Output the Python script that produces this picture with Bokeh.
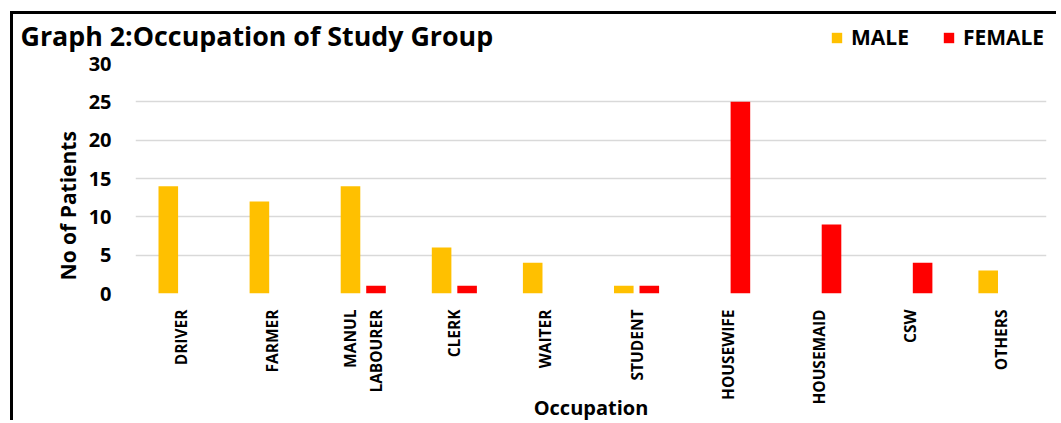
import math
from bokeh.plotting import figure
from bokeh.layouts import column
from bokeh.models import (FactorRange, Range1d, FixedTicker, Legend, LegendItem,
                          ColumnDataSource)
from bokeh.core.properties import value
from bokeh.transform import dodge
from bokeh.embed import file_html
from bokeh.resources import INLINE

categories = ["DRIVER", "FARMER", "MANUL\nLABOURER", "CLERK", "WAITER", "STUDENT",
              "HOUSEWIFE", "HOUSEMAID", "CSW", "OTHERS"]
male = [14, 12, 14, 6, 4, 1, 0, 0, 0, 3]
female = [0, 0, 1, 1, 0, 1, 25, 9, 4, 0]
y_ticks = [0, 5, 10, 15, 20, 25, 30]
title_text = "Graph 2:Occupation of Study Group"
y_title = "No of Patients"
x_title = "Occupation"
series_names = ["MALE", "FEMALE"]
MALE_COLOR = "#FFC000"
FEMALE_COLOR = "#FF0000"
FONT = "Open Sans"

W = 1046
H_HEAD = 44
OVERLAP = 10
H_MAIN = 375

# ---------- header: title + legend ----------
h = figure(width=W, height=H_HEAD, x_range=Range1d(0, W), y_range=Range1d(0, H_HEAD),
           output_backend="svg", toolbar_location=None, min_border=0)
h.frame_align = False
h.axis.visible = False
h.grid.visible = False
h.outline_line_color = None
h.text(x=[7], y=[H_HEAD - 21], text=[title_text], text_font=value(FONT),
       text_font_style="bold", text_font_size="26.8px", text_baseline="middle",
       text_align="left", text_color="black")
# swatch-only renderers (placed outside the visible header range)
dm = h.vbar(x=[-100], top=[0], width=1, fill_color=MALE_COLOR, line_color=None)
df = h.vbar(x=[-100], top=[0], width=1, fill_color=FEMALE_COLOR, line_color=None)
legend = Legend(items=[LegendItem(label=series_names[0], renderers=[dm]),
                       LegendItem(label=series_names[1], renderers=[df])],
                location=(817, 7), orientation="horizontal", padding=0, margin=0,
                spacing=33, glyph_width=13, glyph_height=13, label_standoff=8,
                label_height=20, label_text_font=FONT, label_text_font_style="bold",
                label_text_font_size="21px", label_text_color="black",
                border_line_color=None, background_fill_alpha=0)
h.add_layout(legend, "center")

# ---------- main chart ----------
src = ColumnDataSource(dict(cat=categories, male=male, female=female))
p = figure(width=W, height=H_MAIN, x_range=FactorRange(*categories, range_padding=0),
           y_range=Range1d(0, 30), output_backend="svg", toolbar_location=None,
           min_border_left=122, min_border_right=13, min_border_top=15,
           min_border_bottom=130)
p.frame_align = False
p.margin = (-OVERLAP, 0, 0, 0)
p.outline_line_color = None
p.border_fill_alpha = 0
p.background_fill_color = "white"

p.vbar(x=dodge("cat", -0.14, range=p.x_range), top="male", width=0.215, source=src,
       fill_color=MALE_COLOR, line_color=None)
p.vbar(x=dodge("cat", 0.14, range=p.x_range), top="female", width=0.215, source=src,
       fill_color=FEMALE_COLOR, line_color=None)

p.xgrid.grid_line_color = None
p.ygrid.grid_line_color = "#D9D9D9"
p.ygrid.grid_line_width = 1.5
p.yaxis.ticker = FixedTicker(ticks=y_ticks)

for ax in (p.xaxis[0], p.yaxis[0]):
    ax.axis_line_color = None
    ax.major_tick_line_color = None
    ax.minor_tick_line_color = None
    ax.major_label_text_font = FONT
    ax.major_label_text_font_style = "bold"
    ax.major_label_text_color = "black"
    ax.axis_label_text_font = FONT
    ax.axis_label_text_font_style = "bold"
    ax.axis_label_text_color = "black"

p.yaxis.major_label_text_font_size = "20px"
p.yaxis.major_label_standoff = 18
p.yaxis.axis_label = y_title + "\u00a0" * 10
p.yaxis.axis_label_text_font_size = "21px"
p.yaxis.axis_label_standoff = 4

p.xaxis.major_label_text_font_size = "15.5px"
p.xaxis.major_label_orientation = math.pi / 2
p.xaxis.major_label_standoff = 10
p.xaxis.axis_label = x_title
p.xaxis.axis_label_text_font_size = "20px"
p.xaxis.axis_label_standoff = -14

layout = column(h, p, spacing=0)
layout.margin = (14, 0, 0, 13)
layout.styles = {"box-shadow": "-3px -3px 0 0 #000"}

open("out.html", "w").write(file_html(layout, INLINE))
